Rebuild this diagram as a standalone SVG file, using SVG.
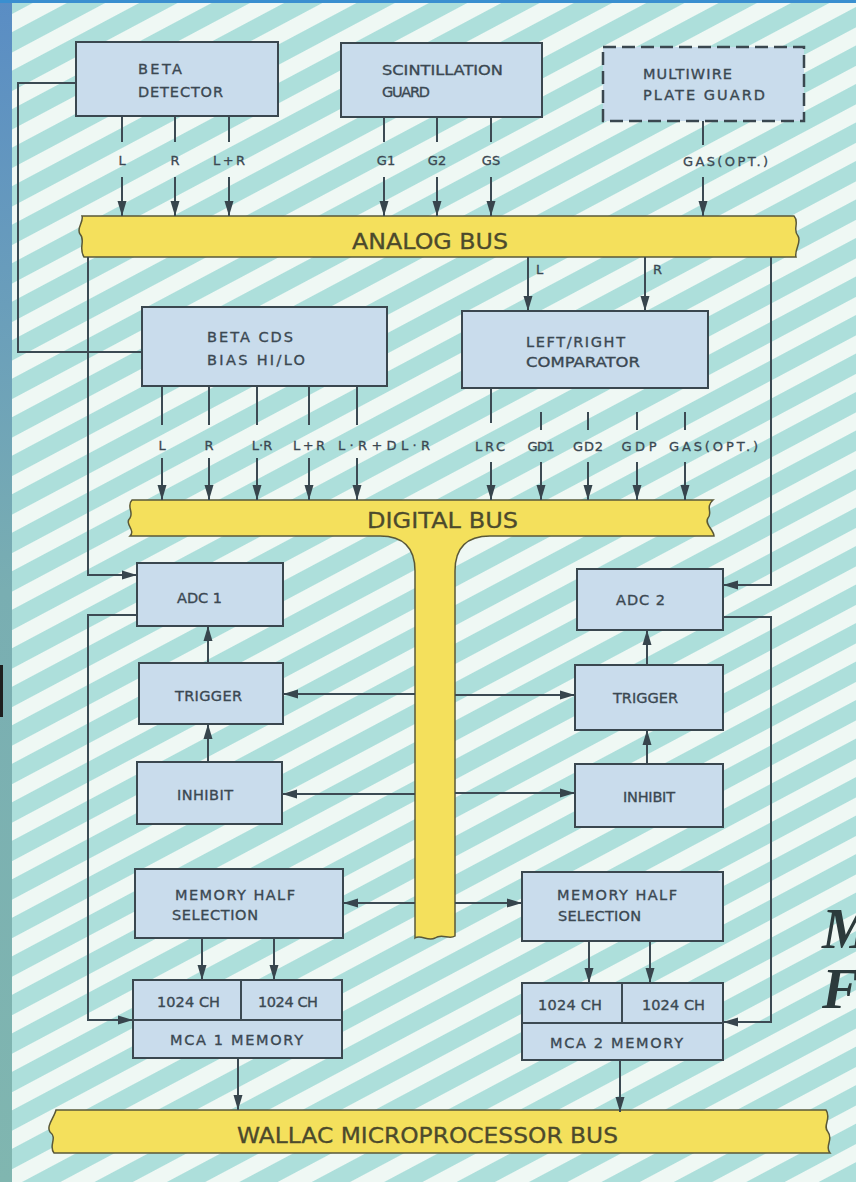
<svg xmlns="http://www.w3.org/2000/svg" width="856" height="1182" viewBox="0 0 856 1182">
<defs>
<pattern id="stripes" width="40" height="34" patternUnits="userSpaceOnUse" patternTransform="rotate(-28)">
<rect width="40" height="34" fill="#eff8f4"/>
<rect width="40" height="18" fill="#addfdb"/>
</pattern>
<linearGradient id="side" x1="0" y1="0" x2="0" y2="1">
<stop offset="0" stop-color="#5a8dc4"/>
<stop offset="0.5" stop-color="#79aeb2"/>
<stop offset="1" stop-color="#80b6b0"/>
</linearGradient>
<marker id="ah" markerUnits="userSpaceOnUse" markerWidth="16" markerHeight="10" refX="15" refY="5" orient="auto">
<path d="M0,0.5 L15,5 L0,9.5 Z" fill="#37454d"/>
</marker>
<style>
.box{fill:#c9dcec;stroke:#3a474f;stroke-width:2}
.dash{fill:#c9dcec;stroke:#3a474f;stroke-width:2.5;stroke-dasharray:13 6}
.bus{fill:#f4e05c;stroke:#5a5838;stroke-width:1.5}
.t{font-family:"DejaVu Sans","Liberation Sans",sans-serif;font-size:14.5px;fill:#3b4852;stroke:#3b4852;stroke-width:0.35}
.s{font-family:"DejaVu Sans","Liberation Sans",sans-serif;font-size:13px;fill:#3b4852;stroke:#3b4852;stroke-width:0.3}
.b{font-family:"DejaVu Sans","Liberation Sans",sans-serif;font-size:22px;fill:#4c4a2c;stroke:#4c4a2c;stroke-width:0.3}
.c{fill:none;stroke:#3c4a53;stroke-width:2}
.a{fill:none;stroke:#3c4a53;stroke-width:2;marker-end:url(#ah)}
.m{text-anchor:middle}
</style>
</defs>

<rect width="856" height="1182" fill="url(#stripes)"/>
<rect x="0" y="0" width="12" height="1182" fill="url(#side)"/>
<rect x="0" y="0" width="856" height="3" fill="#3a8fd0"/>
<rect x="0" y="665" width="3" height="52" fill="#1e1e1e"/>

<g id="analog-bus">
<path class="bus" d="M82 216 H794 C800 222,792 230,798 236 C802 242,794 250,796 257 H84 C78 248,86 240,80 234 C76 228,84 222,82 216 Z"/>
<text class="b" x="352" y="249" textLength="156" lengthAdjust="spacingAndGlyphs">ANALOG BUS</text>
</g>
<g id="digital-bus">
<path class="bus" d="M132 500 H713 C705 507,713 513,708 518 C704 524,714 530,714 536 H490 Q455 536 455 571 V936 C449 940,442 933,435 938 C428 942,421 934,415 938 V571 Q415 536 380 536 H130 C136 530,124 524,130 518 C134 512,126 506,132 500 Z"/>
<text class="b" x="367" y="528" textLength="151" lengthAdjust="spacingAndGlyphs">DIGITAL BUS</text>
</g>
<g id="wallac-bus">
<path class="bus" d="M56 1110 H826 C832 1118,822 1126,828 1132 C834 1140,824 1146,830 1153 H54 C48 1146,58 1138,50 1132 C46 1126,54 1118,56 1110 Z"/>
<text class="b" x="237" y="1143" font-size="23" textLength="381" lengthAdjust="spacingAndGlyphs">WALLAC MICROPROCESSOR BUS</text>
</g>

<g id="connectors">
<path class="c" d="M76 83 H18 V352 H142"/>
<path class="c" d="M122 116 V142 M175 116 V142 M229 116 V142"/>
<path class="a" d="M122 177 V216"/><path class="a" d="M175 177 V216"/><path class="a" d="M229 177 V216"/>
<path class="c" d="M384 117 V142 M437 117 V142 M491 117 V142"/>
<path class="a" d="M384 177 V216"/><path class="a" d="M437 177 V216"/><path class="a" d="M491 177 V216"/>
<path class="c" d="M703 121 V145"/>
<path class="a" d="M703 177 V216"/>
<path class="a" d="M528 257 V311"/><path class="a" d="M645 257 V311"/>
<path class="a" d="M88 257 V575 H137"/>
<path class="a" d="M137 615 H88 V1020 H133"/>
<path class="a" d="M771 257 V585 H723"/>
<path class="a" d="M723 617 H771 V1022 H723"/>
<path class="c" d="M162 386 V425 M209 386 V425 M257 386 V425 M309 386 V425 M357 386 V425"/>
<path class="a" d="M162 458 V500"/><path class="a" d="M209 458 V500"/><path class="a" d="M257 458 V500"/><path class="a" d="M309 458 V500"/><path class="a" d="M357 458 V500"/>
<path class="c" d="M491 388 V423 M541 412 V430 M588 412 V430 M637 412 V430 M685 412 V430"/>
<path class="a" d="M491 462 V500"/><path class="a" d="M541 462 V500"/><path class="a" d="M588 462 V500"/><path class="a" d="M637 462 V500"/><path class="a" d="M685 462 V500"/>
<path class="a" d="M415 694 H283"/><path class="a" d="M415 794 H282"/>
<path class="a" d="M455 695 H575"/><path class="a" d="M455 793 H575"/>
<path class="a" d="M415 903 H343"/><path class="a" d="M455 903 H522"/>
<path class="a" d="M208 762 V724"/><path class="a" d="M208 663 V626"/>
<path class="a" d="M647 764 V730"/><path class="a" d="M647 665 V630"/>
<path class="a" d="M202 938 V980"/><path class="a" d="M274 938 V980"/>
<path class="a" d="M589 941 V983"/><path class="a" d="M650 941 V983"/>
<path class="a" d="M238 1058 V1110"/><path class="a" d="M620 1060 V1112"/>
<text class="s m" x="122" y="165">L</text>
<text class="s m" x="175" y="165">R</text>
<text class="s m" x="229" y="165" textLength="32">L+R</text>
<text class="s m" x="386" y="165">G1</text>
<text class="s m" x="437" y="165">G2</text>
<text class="s m" x="491" y="165">GS</text>
<text class="s" x="683" y="166" textLength="85">GAS(OPT.)</text>
<text class="s" x="536" y="274" font-size="11">L</text>
<text class="s" x="653" y="274" font-size="11">R</text>
<text class="s m" x="162" y="450">L</text>
<text class="s m" x="209" y="450">R</text>
<text class="s m" x="262" y="450">L·R</text>
<text class="s m" x="309" y="450" textLength="32">L+R</text>
<text class="s" x="338" y="450" textLength="92">L·R+DL·R</text>
<text class="s m" x="490" y="451" textLength="30">LRC</text>
<text class="s m" x="541" y="451" textLength="27">GD1</text>
<text class="s m" x="588" y="451" textLength="30">GD2</text>
<text class="s m" x="639" y="451" textLength="35">GDP</text>
<text class="s" x="669" y="451" textLength="89">GAS(OPT.)</text>
</g>

<g id="beta-detector">
<rect class="box" x="76" y="42" width="202" height="74"/>
<text class="t" x="138" y="74" textLength="44">BETA</text>
<text class="t" x="138" y="97" textLength="85">DETECTOR</text>
</g>
<g id="scintillation-guard">
<rect class="box" x="341" y="43" width="201" height="74"/>
<text class="t" x="382" y="75" textLength="121" lengthAdjust="spacingAndGlyphs">SCINTILLATION</text>
<text class="t" x="382" y="97" textLength="48">GUARD</text>
</g>
<g id="multiwire-plate-guard">
<rect class="dash" x="603" y="47" width="201" height="74"/>
<text class="t" x="643" y="79" textLength="89">MULTIWIRE</text>
<text class="t" x="643" y="100" textLength="122">PLATE GUARD</text>
</g>
<g id="beta-cds">
<rect class="box" x="142" y="307" width="245" height="79"/>
<text class="t" x="207" y="342" textLength="86">BETA CDS</text>
<text class="t" x="207" y="365" textLength="98">BIAS HI/LO</text>
</g>
<g id="lr-comparator">
<rect class="box" x="462" y="311" width="246" height="77"/>
<text class="t" x="526" y="347" textLength="99">LEFT/RIGHT</text>
<text class="t" x="526" y="367" textLength="114" lengthAdjust="spacingAndGlyphs">COMPARATOR</text>
</g>
<g id="adc1">
<rect class="box" x="137" y="563" width="146" height="63"/>
<text class="t" x="177" y="603" textLength="45">ADC 1</text>
</g>
<g id="trigger1">
<rect class="box" x="139" y="663" width="144" height="61"/>
<text class="t" x="175" y="701" textLength="67">TRIGGER</text>
</g>
<g id="inhibit1">
<rect class="box" x="137" y="762" width="145" height="62"/>
<text class="t" x="177" y="800" textLength="56">INHIBIT</text>
</g>
<g id="adc2">
<rect class="box" x="577" y="569" width="146" height="61"/>
<text class="t" x="616" y="605" textLength="49">ADC 2</text>
</g>
<g id="trigger2">
<rect class="box" x="575" y="665" width="148" height="65"/>
<text class="t" x="613" y="703" textLength="65">TRIGGER</text>
</g>
<g id="inhibit2">
<rect class="box" x="575" y="764" width="148" height="63"/>
<text class="t" x="623" y="802" textLength="52">INHIBIT</text>
</g>
<g id="mhs1">
<rect class="box" x="135" y="869" width="208" height="69"/>
<text class="t" x="175" y="900" textLength="120">MEMORY HALF</text>
<text class="t" x="172" y="920" textLength="86">SELECTION</text>
</g>
<g id="mhs2">
<rect class="box" x="522" y="872" width="201" height="69"/>
<text class="t" x="557" y="900" textLength="120">MEMORY HALF</text>
<text class="t" x="558" y="921" textLength="83">SELECTION</text>
</g>
<g id="mca1">
<rect class="box" x="133" y="980" width="209" height="78"/>
<path class="c" d="M133 1020 H342 M241 980 V1020"/>
<text class="t" x="157" y="1007" textLength="63">1024 CH</text>
<text class="t" x="258" y="1007" textLength="60">1024 CH</text>
<text class="t" x="170" y="1045" textLength="133">MCA 1 MEMORY</text>
</g>
<g id="mca2">
<rect class="box" x="522" y="983" width="201" height="77"/>
<path class="c" d="M522 1023 H723 M622 983 V1023"/>
<text class="t" x="538" y="1010" textLength="64">1024 CH</text>
<text class="t" x="642" y="1010" textLength="63">1024 CH</text>
<text class="t" x="550" y="1048" textLength="133">MCA 2 MEMORY</text>
</g>

<g id="title-fragment">
<text x="822" y="948" font-family="Liberation Serif,serif" font-style="italic" font-weight="bold" font-size="56" fill="#2c3a3c">M</text>
<text x="822" y="1008" font-family="Liberation Serif,serif" font-style="italic" font-weight="bold" font-size="56" fill="#2c3a3c">F</text>
</g>
</svg>
